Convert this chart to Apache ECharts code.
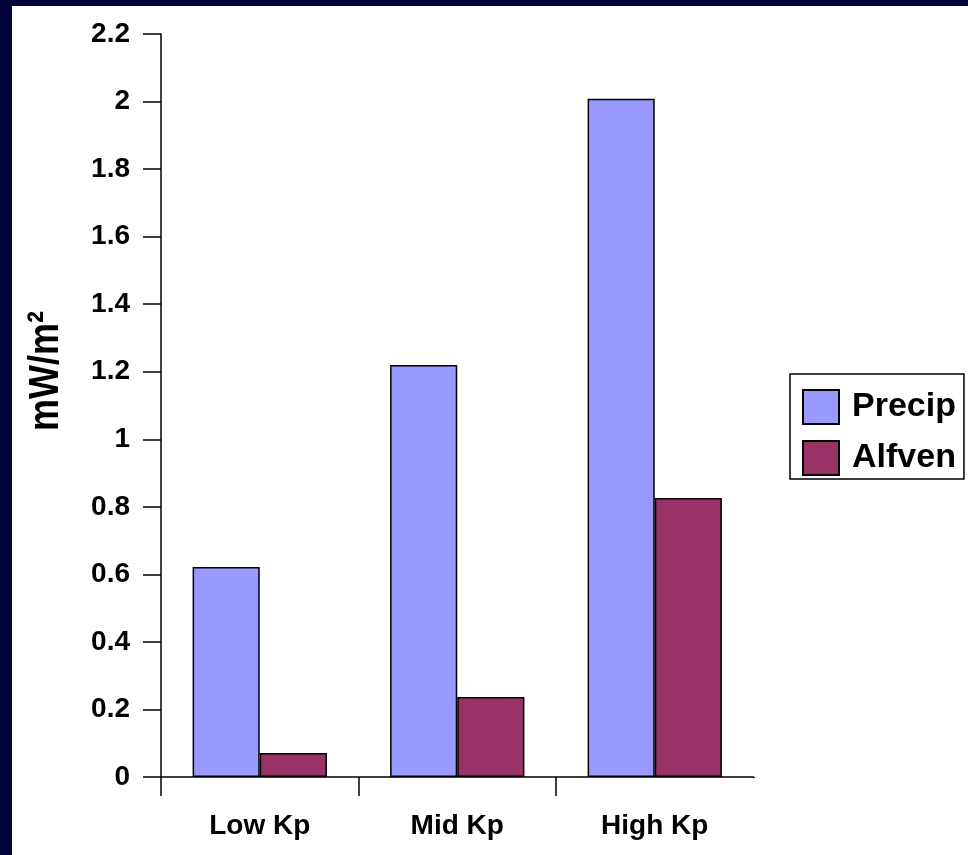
<!DOCTYPE html>
<html>
<head>
<meta charset="utf-8">
<script src="https://cdn.jsdelivr.net/npm/echarts@6/dist/echarts.min.js"></script>
<style>
html,body{margin:0;padding:0;background:#02023a;}
#chart{width:968px;height:855px;}
</style>
</head>
<body>
<div id="chart"></div>
<script>
var categories = ['Low Kp', 'Mid Kp', 'High Kp'];
var precip = [0.622, 1.22, 2.008];
var alfven = [0.071, 0.237, 0.826];
var yTicks = [0, 0.2, 0.4, 0.6, 0.8, 1, 1.2, 1.4, 1.6, 1.8, 2, 2.2];
var seriesNames = ['Precip', 'Alfven'];
var yAxisTitle = 'mW/m²';

var chart = echarts.init(document.getElementById('chart'), null, {renderer: 'canvas'});
var font = '"Liberation Sans", Arial, sans-serif';
var option = {
  backgroundColor: '#02023a',
  animation: false,
  graphic: [
    {type: 'rect', left: 12, top: 6, shape: {width: 956, height: 849}, style: {fill: '#ffffff'}, z: -10},
    {type: 'text', x: 46, y: 371, rotation: Math.PI / 2, scaleY: 1.2,
      style: {text: yAxisTitle, font: 'bold 36px "Liberation Sans"', fill: '#000', align: 'center', verticalAlign: 'middle'}}
  ],
  grid: {left: 161, top: 34, right: 214.5, bottom: 78, containLabel: false},
  legend: {
    orient: 'vertical', left: 790, top: 374,
    padding: [15, 8, 3, 12], itemGap: 15, itemWidth: 36, itemHeight: 34,
    borderColor: '#000', borderWidth: 1.5, backgroundColor: '#fff',
    icon: 'rect',
    textStyle: {fontFamily: font, fontWeight: 'bold', fontSize: 34, color: '#000', padding: [0, 0, 0, 8]},
    data: seriesNames
  },
  xAxis: {
    type: 'category', data: categories,
    axisLine: {lineStyle: {color: '#000', width: 1.5}},
    axisTick: {show: true, length: 19, lineStyle: {color: '#000', width: 1.5}},
    axisLabel: {fontFamily: font, fontWeight: 'bold', fontSize: 28, color: '#000', margin: 35},
    splitLine: {show: false}
  },
  yAxis: {
    type: 'value', min: 0, max: 2.2, interval: 0.2,
    axisLine: {show: true, lineStyle: {color: '#000', width: 1.5}},
    axisTick: {show: true, length: 18, lineStyle: {color: '#000', width: 1.5}},
    axisLabel: {fontFamily: font, fontWeight: 'bold', fontSize: 28, color: '#000', margin: 31,
      formatter: function (v) { return String(parseFloat(v.toFixed(1))); }},
    splitLine: {show: false}
  },
  series: [
    {name: seriesNames[0], type: 'bar', data: precip, barGap: '0%', barCategoryGap: '32%',
      itemStyle: {color: '#9999ff', borderColor: '#000', borderWidth: 1.5}},
    {name: seriesNames[1], type: 'bar', data: alfven, barGap: '0%', barCategoryGap: '32%',
      itemStyle: {color: '#993366', borderColor: '#000', borderWidth: 1.5}}
  ]
};
chart.setOption(option);
// hide the closing tick at the right end of the category axis (reference has none there)
var rect = chart.getModel().getComponent('grid').coordinateSystem.getRect();
chart.setOption({graphic: [
  {type: 'rect', left: 12, top: 6, shape: {width: 956, height: 849}, style: {fill: '#ffffff'}, z: -10},
  {type: 'text', x: 46, y: 371, rotation: Math.PI / 2, scaleY: 1.2,
    style: {text: yAxisTitle, font: 'bold 36px "Liberation Sans"', fill: '#000', align: 'center', verticalAlign: 'middle'}},
  {type: 'rect', x: rect.x + rect.width - 3.5, y: rect.y + rect.height + 1,
    shape: {width: 8, height: 21}, style: {fill: '#ffffff'}, z: 100}
]});
</script>
</body>
</html>
